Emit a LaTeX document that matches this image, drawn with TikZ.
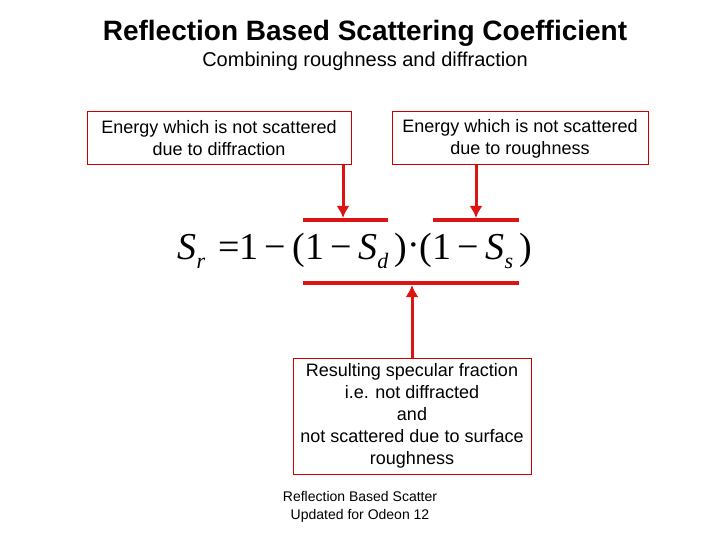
\documentclass[tikz,border=0pt]{standalone}
\usepackage{fontspec}
\usetikzlibrary{arrows.meta}
\setmainfont{Liberation Sans}
\newfontfamily\serf{Liberation Serif}
\begin{document}
\begin{tikzpicture}[x=1pt,y=-1pt,
  box/.style={draw=red!80!black,line width=1pt,inner sep=0pt,minimum height=53pt,align=center,font=\fontsize{18}{22}\selectfont},
  bar/.style={draw={rgb,255:red,220;green,20;blue,20},line width=4pt},
  arr/.style={draw={rgb,255:red,220;green,20;blue,20},line width=3pt,-{Latex[length=12pt,width=13pt]}}]
\useasboundingbox (0,0) rectangle (720,540);
\node (t) at (365,33) {\fontsize{28}{32}\selectfont\bfseries Reflection Based Scattering Coefficient};
\node (st) at (365,61) {\fontsize{20}{24}\selectfont Combining roughness and diffraction};
\node[box,minimum width=264pt] (b1) at (219,138.5) {Energy which is not scattered\\due to diffraction};
\node[box,minimum width=256pt] (b2) at (520,138.5) {Energy which is not scattered\\due to roughness};
\node[box,minimum width=238pt,minimum height=116pt] (b3) at (412,416) {Resulting specular fraction\\i.e. not diffracted\\and\\not scattered due to surface\\roughness};
\node (f) at (355,251) {\serf\fontsize{38}{40}\selectfont \textit{S}\raisebox{-0.25em}{\fontsize{22}{22}\selectfont\textit{r}}\,\,=1\,−\,(1\,−\,\textit{S}\raisebox{-0.25em}{\fontsize{22}{22}\selectfont\textit{d}}\,)\raisebox{0.05em}{·}(1\,−\,\textit{S}\raisebox{-0.25em}{\fontsize{22}{22}\selectfont\textit{s}}\,)};
\coordinate (l1) at (303,220); \coordinate (l2) at (388,220);
\coordinate (r1) at (433,220); \coordinate (r2) at (519,220);
\coordinate (d1) at (303,283); \coordinate (d2) at (519,283);
\draw[bar] (l1) -- (l2); \draw[bar] (r1) -- (r2); \draw[bar] (d1) -- (d2);
\coordinate (a1) at (343,218); \coordinate (a2) at (476,218); \coordinate (a3) at (412,285);
\draw[arr] (b1.south -| a1) -- (a1);
\draw[arr] (b2.south -| a2) -- (a2);
\draw[arr] (b3.north -| a3) -- (a3);
\node[align=center,font=\fontsize{14}{18}\selectfont] (ft) at (360,507) {Reflection Based Scatter\\Updated for Odeon 12};
\end{tikzpicture}
\end{document}
